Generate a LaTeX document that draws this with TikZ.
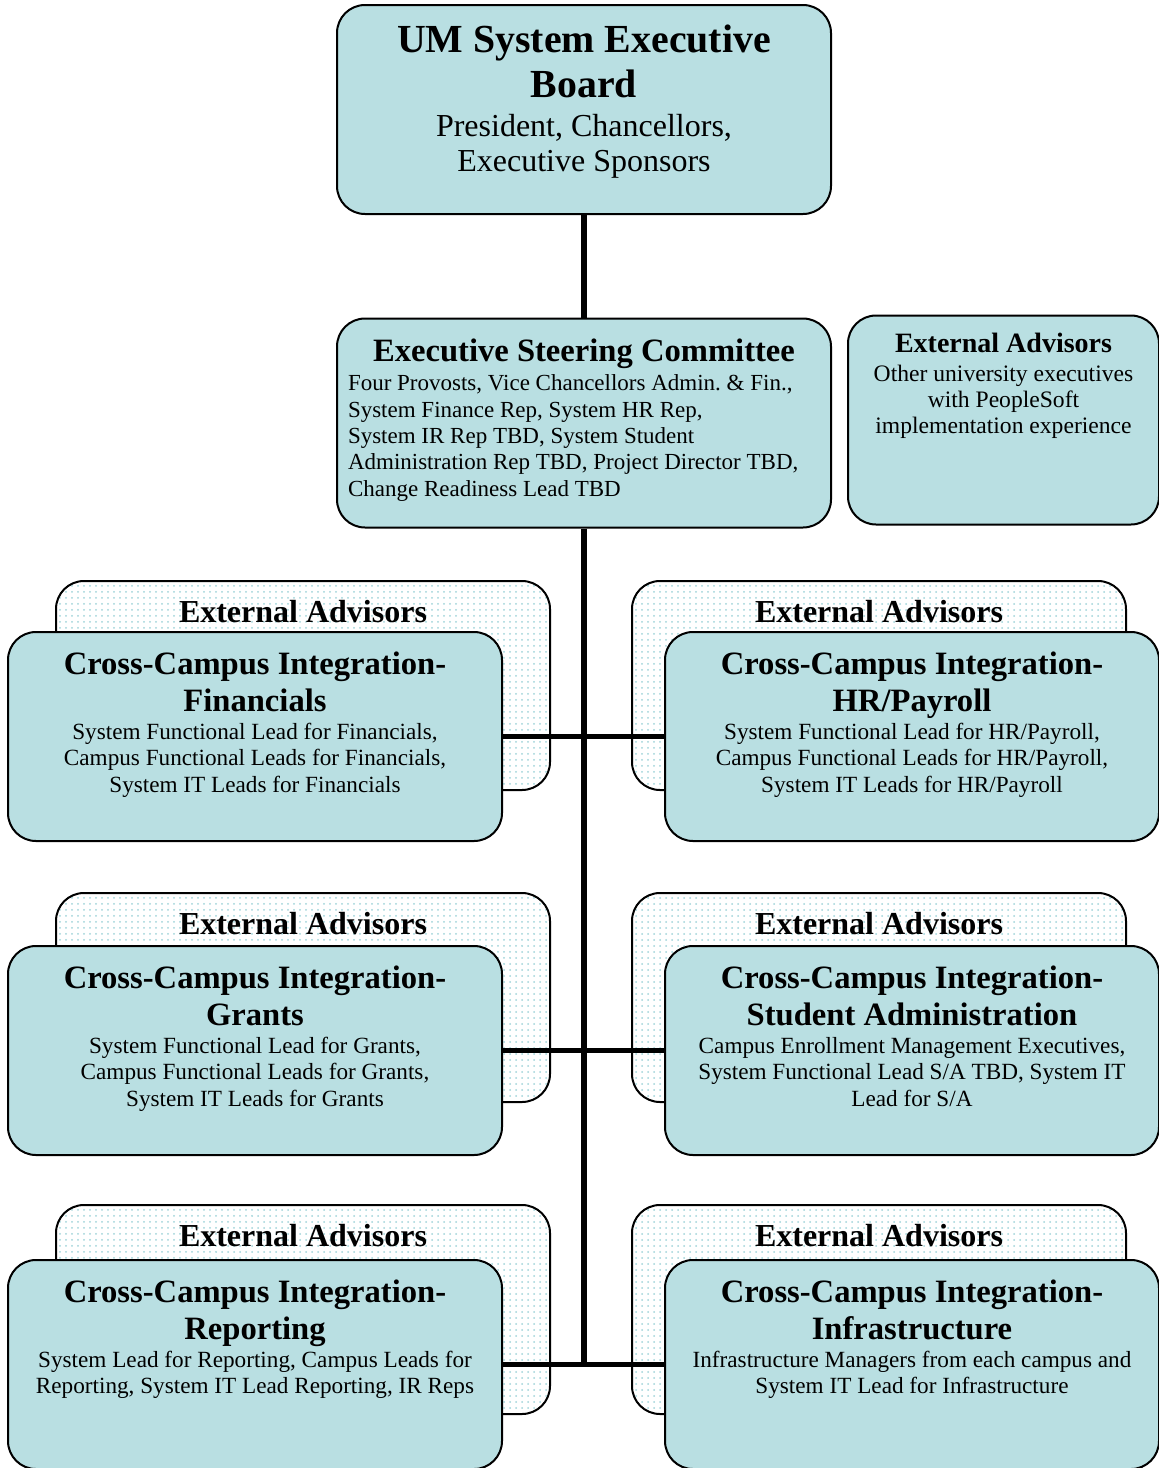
\documentclass[tikz,border=0pt]{standalone}
\usepackage{fontspec}
\setmainfont{Liberation Serif}
\usetikzlibrary{patterns}
\usetikzlibrary{positioning}

\definecolor{boxblue}{RGB}{185,223,226}
\definecolor{dotblue}{RGB}{160,212,218}

\newcommand{\headfont}{\bfseries\fontsize{16.3}{18.5}\selectfont}
\newcommand{\bodyfont}{\fontsize{11.6}{13.3}\selectfont}
\newcommand{\advfont}{\bfseries\fontsize{16}{18}\selectfont}

\begin{document}
\begin{tikzpicture}[x=0.5pt, y=-0.5pt,
    group/.style={draw, line width=1pt, rounded corners=14pt, fill=boxblue, inner sep=0pt,
        minimum width=247pt, minimum height=104.5pt},
    advisors/.style={draw, line width=1pt, rounded corners=14pt, preaction={fill=white},
        pattern=dots, pattern color=dotblue, inner sep=0pt,
        minimum width=247pt, minimum height=104.5pt},
    link/.style={line width=2.75pt}]
	\useasboundingbox (0,0) rectangle (1159,1468);

	% top of the chart
	\node[group] (board) at (584,109.5) {\parbox[c][104.5pt][t]{240pt}{\centering\vspace*{10.1pt}%
		{\bfseries\fontsize{19.9}{22.5}\selectfont UM System Executive\\Board\par}\vspace{1.6pt}%
		{\fontsize{16}{17.5}\selectfont President, Chancellors,\\Executive Sponsors\par}}};
	\node[group] (steer) at (584,423) {\parbox[c][104pt][t]{236pt}{\centering\vspace*{9.75pt}%
		{\bfseries\fontsize{16.3}{18.5}\selectfont Executive Steering Committee\par}\vspace{1.6pt}%
		\raggedright\fontsize{11.5}{13.2}\selectfont Four Provosts, Vice Chancellors Admin.\ \& Fin.,\\
		System Finance Rep, System HR Rep,\\
		System IR Rep TBD, System Student\\
		Administration Rep TBD, Project Director TBD,\\
		Change Readiness Lead TBD\par}};
	\node[group, minimum width=155.5pt] (extadv) at (1003.5,420) {\parbox[c][104pt][t]{150pt}{\centering\vspace*{8.55pt}%
		{\bfseries\fontsize{14}{15}\selectfont External Advisors\par}\vspace{1.4pt}%
		\fontsize{11.8}{13.1}\selectfont Other university executives\\with PeopleSoft\\implementation experience\par}};

	% advisors behind each team
	\node[advisors] (al1) at (303,685.5) {\parbox[c][104.5pt][t]{240pt}{\centering\vspace*{9.5pt}\advfont External Advisors\par}};
	\node[advisors] (ar1) at (879,685.5) {\parbox[c][104.5pt][t]{240pt}{\centering\vspace*{9.5pt}\advfont External Advisors\par}};
	\node[advisors] (al2) at (303,997.5) {\parbox[c][104.5pt][t]{240pt}{\centering\vspace*{9.5pt}\advfont External Advisors\par}};
	\node[advisors] (ar2) at (879,997.5) {\parbox[c][104.5pt][t]{240pt}{\centering\vspace*{9.5pt}\advfont External Advisors\par}};
	\node[advisors] (al3) at (303,1309.5) {\parbox[c][104.5pt][t]{240pt}{\centering\vspace*{9.5pt}\advfont External Advisors\par}};
	\node[advisors] (ar3) at (879,1309.5) {\parbox[c][104.5pt][t]{240pt}{\centering\vspace*{9.5pt}\advfont External Advisors\par}};

	% the six teams
	\node[group] (fl1) at (255,736.5) {\parbox[c][104.5pt][t]{240pt}{\centering\vspace*{9.7pt}%
		{\headfont Cross-Campus Integration-\\Financials\par}\vspace{0.8pt}%
		\bodyfont System Functional Lead for Financials,\\Campus Functional Leads for Financials,\\System IT Leads for Financials\par}};
	\node[group] (fr1) at (912,736.5) {\parbox[c][104.5pt][t]{240pt}{\centering\vspace*{9.7pt}%
		{\headfont Cross-Campus Integration-\\HR/Payroll\par}\vspace{0.8pt}%
		\bodyfont System Functional Lead for HR/Payroll,\\Campus Functional Leads for HR/Payroll,\\System IT Leads for HR/Payroll\par}};
	\node[group] (fl2) at (255,1050.5) {\parbox[c][104.5pt][t]{240pt}{\centering\vspace*{9.7pt}%
		{\headfont Cross-Campus Integration-\\Grants\par}\vspace{0.8pt}%
		\bodyfont System Functional Lead for Grants,\\Campus Functional Leads for Grants,\\System IT Leads for Grants\par}};
	\node[group] (fr2) at (912,1050.5) {\parbox[c][104.5pt][t]{240pt}{\centering\vspace*{9.7pt}%
		{\headfont Cross-Campus Integration-\\Student Administration\par}\vspace{0.8pt}%
		\bodyfont Campus Enrollment Management Executives,\\System Functional Lead S/A TBD, System IT\\Lead for S/A\par}};
	\node[group] (fl3) at (255,1364.5) {\parbox[c][104.5pt][t]{240pt}{\centering\vspace*{9.7pt}%
		{\headfont Cross-Campus Integration-\\Reporting\par}\vspace{0.8pt}%
		\bodyfont System Lead for Reporting, Campus Leads for\\Reporting, System IT Lead Reporting, IR Reps\par}};
	\node[group] (fr3) at (912,1364.5) {\parbox[c][104.5pt][t]{240pt}{\centering\vspace*{9.7pt}%
		{\headfont Cross-Campus Integration-\\Infrastructure\par}\vspace{0.8pt}%
		\bodyfont Infrastructure Managers from each campus and\\System IT Lead for Infrastructure\par}};

	% connecting lines
	\coordinate (trunkend) at (steer.south |- fl3.east);
	\draw[link] (board) -- (steer);
	\draw[link] (steer.south) -- (trunkend);
	\draw[link] (fl1.east) -- (fr1.west);
	\draw[link] (fl2.east) -- (fr2.west);
	\draw[link] (fl3.east) -- (fr3.west);
\end{tikzpicture}
\end{document}
